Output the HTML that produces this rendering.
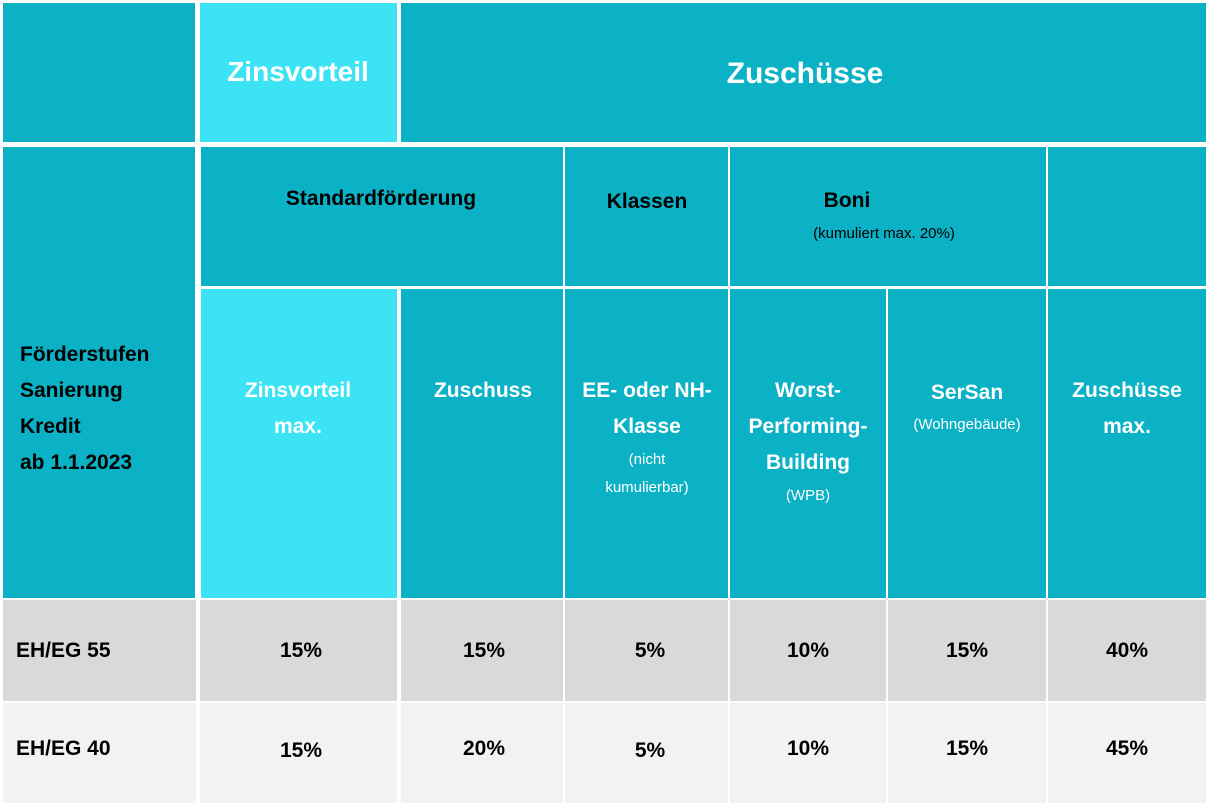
<!DOCTYPE html>
<html><head><meta charset="utf-8"><style>
body{margin:0;width:1208px;height:806px;background:#fff;position:relative;overflow:hidden;font-family:"Liberation Sans",sans-serif;}
.c{position:absolute;box-sizing:border-box;}
.t{background:#0BB1C5;}
.l{background:#3BE3F5;}
.g1{background:#D9D9D9;}
.g2{background:#F2F2F2;}
.x{position:absolute;text-align:center;font-weight:bold;font-size:21px;line-height:36px;white-space:nowrap;transform:translateX(-50%);}
.w{color:#fff}.k{color:#000}
.s{font-weight:normal;font-size:15px;line-height:28px;}
</style></head><body>
<div class="c t" style="left:3px;top:3px;width:192px;height:139px"></div>
<div class="c l" style="left:200px;top:3px;width:197px;height:139px"></div>
<div class="c t" style="left:401px;top:3px;width:805px;height:139px"></div>
<div class="c t" style="left:3px;top:147px;width:192px;height:451px"></div>
<div class="c t" style="left:201px;top:147px;width:362px;height:139px"></div>
<div class="c t" style="left:565px;top:147px;width:163px;height:139px"></div>
<div class="c t" style="left:730px;top:147px;width:316px;height:139px"></div>
<div class="c t" style="left:1048px;top:147px;width:158px;height:139px"></div>
<div class="c l" style="left:201px;top:289px;width:196px;height:309px"></div>
<div class="c t" style="left:401px;top:289px;width:162px;height:309px"></div>
<div class="c t" style="left:565px;top:289px;width:163px;height:309px"></div>
<div class="c t" style="left:730px;top:289px;width:156px;height:309px"></div>
<div class="c t" style="left:888px;top:289px;width:158px;height:309px"></div>
<div class="c t" style="left:1048px;top:289px;width:158px;height:309px"></div>

<div class="c g1" style="left:3px;top:600px;width:1203px;height:101px"></div>
<div class="c g2" style="left:3px;top:703px;width:1203px;height:100px"></div>
<div class="c" style="left:196px;top:600px;width:4px;height:206px;background:#fff"></div>
<div class="c" style="left:397px;top:600px;width:4px;height:206px;background:#fff"></div>
<div class="c" style="left:563px;top:600px;width:2px;height:206px;background:#fff"></div>
<div class="c" style="left:728px;top:600px;width:2px;height:206px;background:#fff"></div>
<div class="c" style="left:886px;top:600px;width:2px;height:206px;background:#fff"></div>
<div class="c" style="left:1046px;top:600px;width:2px;height:206px;background:#fff"></div>

<div class="x w" style="left:298px;top:52px;font-size:28px;line-height:40px">Zinsvorteil</div>
<div class="x w" style="left:805px;top:54px;font-size:30px;line-height:40px">Zuschüsse</div>
<div class="x k" style="left:381px;top:181px">Standardförderung</div>
<div class="x k" style="left:647px;top:184px">Klassen</div>
<div class="x k" style="left:847px;top:183px">Boni</div>
<div class="x k s" style="left:884px;top:220px">(kumuliert max. 20%)</div>
<div class="x k" style="left:20px;top:337px;transform:none;text-align:left">Förderstufen<br>Sanierung<br>Kredit<br>ab 1.1.2023</div>
<div class="x w" style="left:298px;top:373px">Zinsvorteil<br>max.</div>
<div class="x w" style="left:483px;top:373px">Zuschuss</div>
<div class="x w" style="left:647px;top:373px">EE- oder NH-<br>Klasse</div>
<div class="x w s" style="left:647px;top:446px">(nicht<br>kumulierbar)</div>
<div class="x w" style="left:808px;top:373px">Worst-<br>Performing-<br>Building</div>
<div class="x w s" style="left:808px;top:482px">(WPB)</div>
<div class="x w" style="left:967px;top:375px">SerSan</div>
<div class="x w s" style="left:967px;top:411px">(Wohngebäude)</div>
<div class="x w" style="left:1127px;top:373px">Zuschüsse<br>max.</div>

<div class="x k" style="left:16px;top:633px;transform:none">EH/EG 55</div>
<div class="x k" style="left:301px;top:633px">15%</div>
<div class="x k" style="left:484px;top:633px">15%</div>
<div class="x k" style="left:650px;top:633px">5%</div>
<div class="x k" style="left:808px;top:633px">10%</div>
<div class="x k" style="left:967px;top:633px">15%</div>
<div class="x k" style="left:1127px;top:633px">40%</div>
<div class="x k" style="left:16px;top:731px;transform:none">EH/EG 40</div>
<div class="x k" style="left:301px;top:733px">15%</div>
<div class="x k" style="left:484px;top:731px">20%</div>
<div class="x k" style="left:650px;top:733px">5%</div>
<div class="x k" style="left:808px;top:731px">10%</div>
<div class="x k" style="left:967px;top:731px">15%</div>
<div class="x k" style="left:1127px;top:731px">45%</div>
</body></html>
